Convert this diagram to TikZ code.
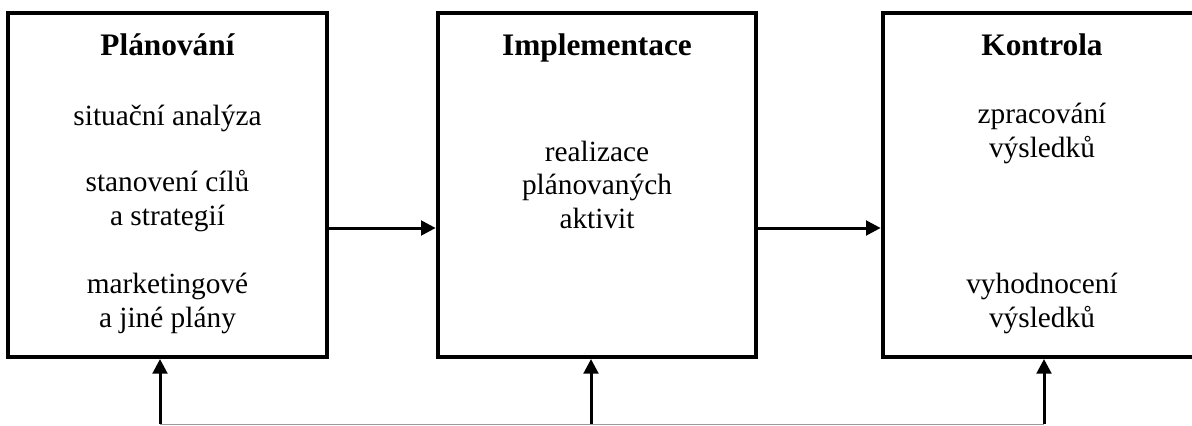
\documentclass[tikz,border=0pt]{standalone}
\usepackage{fontspec}
\setmainfont{Liberation Serif}
\usetikzlibrary{shapes,arrows.meta}

\begin{document}
\begin{tikzpicture}[x=0.75pt,y=-0.75pt,>={Triangle[length=11pt,width=11pt]},
    box/.style={draw,line width=3pt,minimum width=239pt,minimum height=258pt,inner sep=0pt},
    heading/.style={anchor=base,font=\fontsize{23.5}{25.1}\selectfont\bfseries},
    item/.style={anchor=base,align=center,font=\fontsize{22}{25.1}\selectfont},
    link/.style={->,line width=2.25pt}]
    \useasboundingbox (0,0) rectangle (1192,425);

    % Draw the boxes
    \node [box] (plan) at (167.5,185) {};
    \node [box] (impl) at (597,185) {};
    \node [box] (ctrl) at (1042,185) {};

    % Headings
    \node [heading] (planT) at (167.5,55) {Plánování};
    \node [heading] (implT) at (597,55) {Implementace};
    \node [heading] (ctrlT) at (1042,55) {Kontrola};

    % Contents of the boxes (base = last line)
    \node [item] (planA) at (167.5,125) {situační analýza};
    \node [item] (planB) at (167.5,225) {stanovení cílů\\a strategií};
    \node [item] (planC) at (167.5,327) {marketingové\\a jiné plány};
    \node [item] (implA) at (597,228) {realizace\\plánovaných\\aktivit};
    \node [item] (ctrlA) at (1042,157) {zpracování\\výsledků};
    \node [item] (ctrlB) at (1042,327) {vyhodnocení\\výsledků};

    % Arrows between the stages
    \coordinate (lvl) at (0,228);
    \draw [link] (plan.east |- lvl) -- (impl.west |- lvl);
    \draw [link] (impl.east |- lvl) -- (ctrl.west |- lvl);

    % Feedback line
    \coordinate (fbA) at (160,424);
    \coordinate (fbB) at (591,424);
    \coordinate (fbC) at (1044,424);
    \draw [black!40,line width=0.75pt] (fbA) -- (fbC);
    \draw [link] (fbA) -- (fbA |- plan.south);
    \draw [link] (fbB) -- (fbB |- impl.south);
    \draw [link] (fbC) -- (fbC |- ctrl.south);

\end{tikzpicture}
\end{document}
